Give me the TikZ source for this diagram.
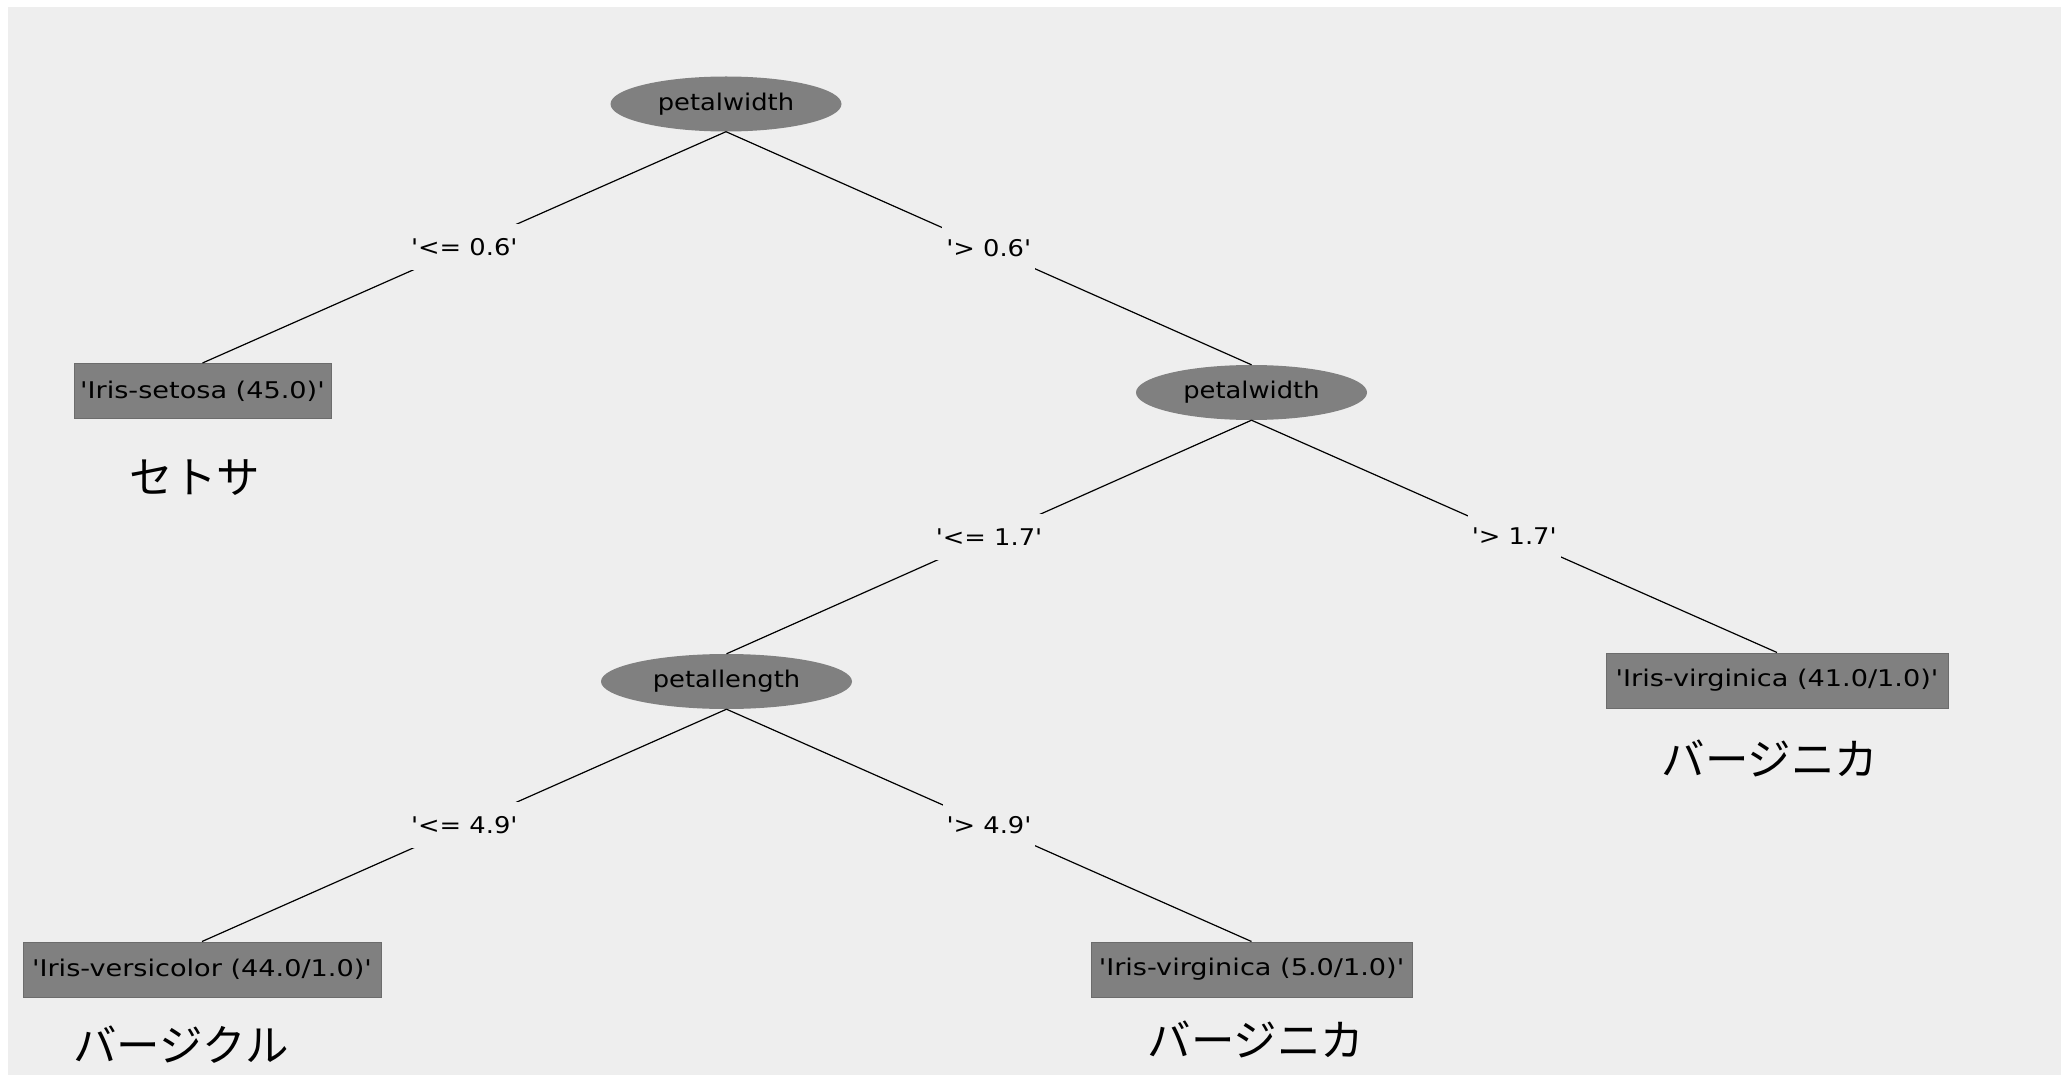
\documentclass[tikz,border=0pt]{standalone}
\usepackage{fontspec}
\usetikzlibrary{shapes.geometric}
\newfontfamily\wekafont{DejaVu Sans}[FakeStretch=1.12,Ligatures=TeXOff]
\newfontfamily\leaffont{DejaVu Sans}[FakeStretch=1.18,Ligatures=TeXOff]
\newfontfamily\jafont{Noto Sans CJK JP}
\definecolor{panel}{HTML}{EEEEEE}
\definecolor{nodegray}{HTML}{808080}
\definecolor{boxedge}{HTML}{6C6C6C}

\begin{document}
\begin{tikzpicture}[x=1pt,y=-1pt,
  attr/.style={ellipse, fill=nodegray, draw=none, minimum height=55pt,
    inner sep=0pt, font=\wekafont\fontsize{23}{27}\selectfont},
  leaf/.style={rectangle, fill=nodegray, draw=boxedge, line width=1pt,
    minimum height=55pt, inner sep=0pt, font=\leaffont\fontsize{23}{27}\selectfont},
  cond/.style={fill=panel, inner xsep=4pt, inner ysep=0pt, minimum height=46pt,
    font=\wekafont\fontsize{23}{27}\selectfont},
  jp/.style={inner sep=0pt, font=\jafont\fontsize{43.5}{48}\selectfont},
  branch/.style={draw=black, line width=1.2pt}]

% canvas
\useasboundingbox (0,0) rectangle (2061,1075);
\fill[white] (0,0) rectangle (2061,1075);
\fill[panel] (8,7) rectangle (2061,1075);

% tree nodes
\node[attr, minimum width=231pt] (root) at (726,104) {petalwidth};
\node[attr, minimum width=231pt] (pw) at (1251.5,392.5) {petalwidth};
\node[attr, minimum width=251pt] (pl) at (726.5,681.5) {petallength};

\node[leaf, minimum width=257pt] (setosa) at (202.5,391) {'Iris-setosa (45.0)'};
\node[leaf, minimum width=342pt] (virgA) at (1777,680.5) {'Iris-virginica (41.0/1.0)'};
\node[leaf, minimum width=358pt] (versi) at (202,969.5) {'Iris-versicolor (44.0/1.0)'};
\node[leaf, minimum width=321pt] (virgB) at (1251.5,969.5) {'Iris-virginica (5.0/1.0)'};

% branches with their split conditions
\draw[branch] (root.south) -- node[cond] {'<= 0.6'} (setosa.north);
\draw[branch] (root.south) -- node[cond] {'> 0.6'} (pw.north);
\draw[branch] (pw.south) -- node[cond] {'<= 1.7'} (pl.north);
\draw[branch] (pw.south) -- node[cond] {'> 1.7'} (virgA.north);
\draw[branch] (pl.south) -- node[cond] {'<= 4.9'} (versi.north);
\draw[branch] (pl.south) -- node[cond] {'> 4.9'} (virgB.north);

% Japanese class names
\node[jp] (jsetosa) at (195,478) {セトサ};
\node[jp] (jvirgA) at (1770,758) {バージニカ};
\node[jp] (jversi) at (181,1045) {バージクル};
\node[jp] (jvirgB) at (1256,1039) {バージニカ};
\end{tikzpicture}
\end{document}
